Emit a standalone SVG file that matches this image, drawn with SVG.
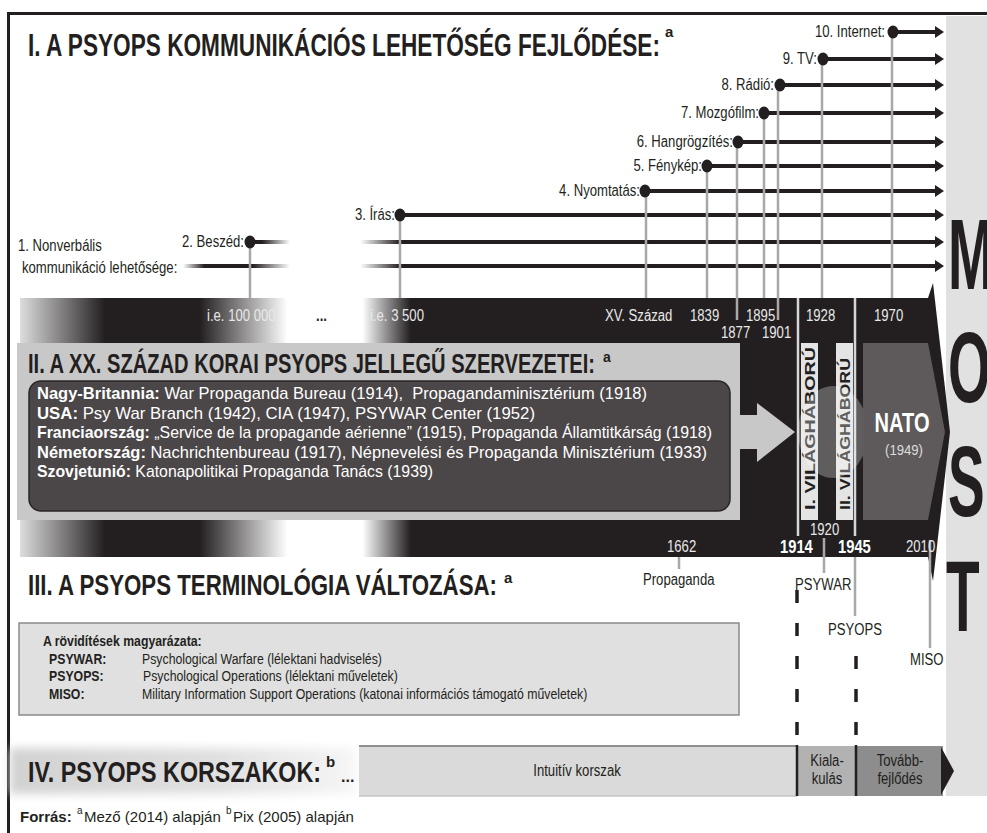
<svg xmlns="http://www.w3.org/2000/svg" width="987" height="833" viewBox="0 0 987 833">
<defs>
<style>
text{font-family:"Liberation Sans",Arial,sans-serif;}
.hd{font-weight:bold;fill:#231f20;}
.lb{font-size:16px;fill:#231f20;}
.wl{font-size:16px;fill:#e8e8e8;}
.bx{font-size:17px;fill:#ffffff;}
.b{font-weight:bold;}
.ln{stroke:#231f20;stroke-width:4;fill:none;}
.vg{stroke:#a8a8a8;stroke-width:2.5;fill:none;}
.sep{stroke:#d6d6d6;stroke-width:2.5;fill:none;}
.dot{fill:#231f20;}
.dash{stroke:#231f20;stroke-width:3.5;stroke-dasharray:13 20;fill:none;}
.big{font-size:100px;font-weight:bold;fill:#231f20;}
.lg{font-size:15px;fill:#231f20;}
.col{fill:#e4e4e4;}
.vt{font-size:15px;font-weight:bold;fill:#231f20;}
.yb{font-size:18px;font-weight:bold;fill:#ffffff;}
</style>
<marker id="ah" markerUnits="userSpaceOnUse" markerWidth="9" markerHeight="12" refX="0" refY="6" orient="auto" viewBox="0 0 9 12"><path d="M0,0 L9,6 L0,12 z" fill="#231f20"/></marker>
<linearGradient id="bandg" gradientUnits="userSpaceOnUse" x1="20" y1="0" x2="933" y2="0">
<stop offset="0" stop-color="#dddddd"/>
<stop offset="0.093" stop-color="#231f20"/>
<stop offset="0.197" stop-color="#231f20"/>
<stop offset="0.293" stop-color="#ffffff"/>
<stop offset="0.375" stop-color="#ffffff"/>
<stop offset="0.428" stop-color="#231f20"/>
<stop offset="1" stop-color="#231f20"/>
</linearGradient>
<linearGradient id="gnv" gradientUnits="userSpaceOnUse" x1="183" y1="0" x2="290" y2="0">
<stop offset="0" stop-color="#231f20" stop-opacity="0"/>
<stop offset="0.2" stop-color="#231f20" stop-opacity="1"/>
<stop offset="0.65" stop-color="#231f20" stop-opacity="1"/>
<stop offset="1" stop-color="#231f20" stop-opacity="0"/>
</linearGradient>
<linearGradient id="gbz" gradientUnits="userSpaceOnUse" x1="250" y1="0" x2="290" y2="0">
<stop offset="0.3" stop-color="#231f20" stop-opacity="1"/>
<stop offset="1" stop-color="#231f20" stop-opacity="0"/>
</linearGradient>
<linearGradient id="gin" gradientUnits="userSpaceOnUse" x1="360" y1="0" x2="400" y2="0">
<stop offset="0" stop-color="#231f20" stop-opacity="0"/>
<stop offset="1" stop-color="#231f20" stop-opacity="1"/>
</linearGradient>
<linearGradient id="glowg" x1="0" y1="0" x2="1" y2="0">
<stop offset="0" stop-color="#d2d2d2"/>
<stop offset="0.6" stop-color="#e0e0e0"/>
<stop offset="1" stop-color="#f6f6f6"/>
</linearGradient>
<filter id="blur" x="-10%" y="-30%" width="120%" height="160%"><feGaussianBlur stdDeviation="5"/></filter>
</defs>

<rect x="0" y="0" width="987" height="833" fill="#ffffff"/>

<g id="frame">
<rect x="946" y="16" width="41" height="780" fill="#e1e1e1"/>
<rect x="7" y="12" width="980" height="3" fill="#231f20"/>
<rect x="7" y="12" width="3" height="821" fill="#231f20"/>
</g>

<g id="most">
<text class="big" transform="translate(948,289) scale(0.55,1)">M</text>
<text class="big" transform="translate(948,402) scale(0.55,1)">O</text>
<text class="big" transform="translate(948,516) scale(0.55,1)">S</text>
<text class="big" transform="translate(946,631) scale(0.55,1)">T</text>
</g>

<g id="sec1-title">
<text class="hd" x="28" y="56" font-size="31" textLength="632" lengthAdjust="spacingAndGlyphs">I. A PSYOPS KOMMUNIKÁCIÓS LEHETŐSÉG FEJLŐDÉSE:</text>
<text class="hd" x="665" y="37" font-size="15">a</text>
</g>

<g id="band">
<rect x="20" y="298" width="913" height="259" fill="url(#bandg)"/>
<polygon points="928,298 933,283 950,432 933,581 928,557" fill="#231f20"/>
</g>

<g id="connectors">
<path class="ln" d="M893,32 H935" marker-end="url(#ah)"/>
<path class="ln" d="M823,59 H935" marker-end="url(#ah)"/>
<path class="ln" d="M780,85 H935" marker-end="url(#ah)"/>
<path class="ln" d="M764,113 H935" marker-end="url(#ah)"/>
<path class="ln" d="M738,142 H935" marker-end="url(#ah)"/>
<path class="ln" d="M707,166 H935" marker-end="url(#ah)"/>
<path class="ln" d="M645,191 H935" marker-end="url(#ah)"/>
<path class="ln" d="M400,215 H935" marker-end="url(#ah)"/>
<path d="M250,242 H290" stroke="url(#gbz)" stroke-width="4" fill="none"/>
<path d="M183,266 H290" stroke="url(#gnv)" stroke-width="4" fill="none"/>
<path d="M360,242 H400" stroke="url(#gin)" stroke-width="4" fill="none"/>
<path d="M360,266 H400" stroke="url(#gin)" stroke-width="4" fill="none"/>
<path class="ln" d="M399,242 H935" marker-end="url(#ah)"/>
<path class="ln" d="M399,266 H935" marker-end="url(#ah)"/>
<path class="vg" d="M892,32 V298 M822,59 V298 M778,85 V320 M764,113 V298 M737,142 V320 M707,166 V298 M646,191 V298 M400,215 V298 M250,242 V298"/>
<path class="vg" d="M679,557 V569 M824,538 V573 M855,557 V616 M930,540 V648"/>
<path class="sep" d="M798,298 V536 M855,298 V536"/>
<path class="dash" d="M797,590 V745"/>
<path class="dash" d="M856,656 V745"/>
</g>

<g id="m1"><text class="lb" transform="translate(18,251) scale(0.82,1)">1. Nonverbális</text><text class="lb" transform="translate(22,273) scale(0.82,1)">kommunikáció lehetősége:</text></g>
<g id="m2"><ellipse class="dot" cx="250" cy="242" rx="5.5" ry="6.5"/><text class="lb" text-anchor="end" transform="translate(244,247) scale(0.82,1)">2. Beszéd:</text></g>
<g id="m3"><ellipse class="dot" cx="400" cy="215" rx="5.5" ry="6.5"/><text class="lb" text-anchor="end" transform="translate(395,220) scale(0.82,1)">3. Írás:</text></g>
<g id="m4"><ellipse class="dot" cx="645" cy="191" rx="5.5" ry="6.5"/><text class="lb" text-anchor="end" transform="translate(640,196) scale(0.82,1)">4. Nyomtatás:</text></g>
<g id="m5"><ellipse class="dot" cx="707" cy="166" rx="5.5" ry="6.5"/><text class="lb" text-anchor="end" transform="translate(702,171) scale(0.82,1)">5. Fénykép:</text></g>
<g id="m6"><ellipse class="dot" cx="738" cy="142" rx="5.5" ry="6.5"/><text class="lb" text-anchor="end" transform="translate(733,147) scale(0.82,1)">6. Hangrögzítés:</text></g>
<g id="m7"><ellipse class="dot" cx="764" cy="113" rx="5.5" ry="6.5"/><text class="lb" text-anchor="end" transform="translate(759,118) scale(0.82,1)">7. Mozgófilm:</text></g>
<g id="m8"><ellipse class="dot" cx="780" cy="85" rx="5.5" ry="6.5"/><text class="lb" text-anchor="end" transform="translate(774,90) scale(0.82,1)">8. Rádió:</text></g>
<g id="m9"><ellipse class="dot" cx="823" cy="59" rx="5.5" ry="6.5"/><text class="lb" text-anchor="end" transform="translate(817,64) scale(0.82,1)">9. TV:</text></g>
<g id="m10"><ellipse class="dot" cx="893" cy="32" rx="5.5" ry="6.5"/><text class="lb" text-anchor="end" transform="translate(885,37) scale(0.82,1)">10. Internet:</text></g>

<g id="years-top">
<text class="wl" transform="translate(207,321) scale(0.82,1)">i.e. 100 000</text>
<text class="lb b" transform="translate(316,321) scale(0.82,1)">...</text>
<text class="wl" transform="translate(370,321) scale(0.82,1)">i.e. 3 500</text>
<text class="wl" transform="translate(605,321) scale(0.82,1)">XV. Század</text>
<text class="wl" transform="translate(690,321) scale(0.82,1)">1839</text>
<text class="wl" transform="translate(721,338) scale(0.82,1)">1877</text>
<text class="wl" transform="translate(746,321) scale(0.82,1)">1895</text>
<text class="wl" transform="translate(762,338) scale(0.82,1)">1901</text>
<text class="wl" transform="translate(806,321) scale(0.82,1)">1928</text>
<text class="wl" transform="translate(874,321) scale(0.82,1)">1970</text>
</g>

<g id="sec2">
<polygon points="17,343 740,343 740,415 757,415 757,403 795,432 757,462 757,449 740,449 740,520 17,520" fill="#c8c8c8"/>
<text class="hd" x="28" y="373" font-size="28" textLength="567" lengthAdjust="spacingAndGlyphs">II. A XX. SZÁZAD KORAI PSYOPS JELLEGŰ SZERVEZETEI:</text>
<text class="hd" x="603" y="362" font-size="14">a</text>
<rect x="29" y="381" width="701" height="130" rx="12" fill="#4b4647" stroke="#2a2627" stroke-width="1.5"/>
<text class="bx" x="37" y="399" textLength="610" lengthAdjust="spacingAndGlyphs"><tspan class="b">Nagy-Britannia:</tspan> War Propaganda Bureau (1914),&#160; Propagandaminisztérium (1918)</text>
<text class="bx" x="37" y="418.5" textLength="498" lengthAdjust="spacingAndGlyphs"><tspan class="b">USA:</tspan> Psy War Branch (1942), CIA (1947), PSYWAR Center (1952)</text>
<text class="bx" x="37" y="438" textLength="675" lengthAdjust="spacingAndGlyphs"><tspan class="b">Franciaország:</tspan> „Service de la propagande aérienne” (1915), Propaganda Államtitkárság (1918)</text>
<text class="bx" x="37" y="457.5" textLength="670" lengthAdjust="spacingAndGlyphs"><tspan class="b">Németország:</tspan> Nachrichtenbureau (1917), Népnevelési és Propaganda Minisztérium (1933)</text>
<text class="bx" x="37" y="477" textLength="396" lengthAdjust="spacingAndGlyphs"><tspan class="b">Szovjetunió:</tspan> Katonapolitikai Propaganda Tanács (1939)</text>
</g>

<g id="wars">
<rect class="col" x="801" y="343" width="17" height="177"/>
<rect class="col" x="836" y="343" width="17" height="177"/>
<text class="vt" transform="translate(815,510) rotate(-90)" textLength="163" lengthAdjust="spacingAndGlyphs">I. VILÁGHÁBORÚ</text>
<text class="vt" transform="translate(850,510) rotate(-90)" textLength="152" lengthAdjust="spacingAndGlyphs">II. VILÁGHÁBORÚ</text>
<ellipse cx="833" cy="432" rx="35" ry="46" fill="#ffffff" fill-opacity="0.28"/>
</g>

<g id="nato">
<polygon points="863,343 928,343 945,432 928,520 863,520" fill="#5e5a5b"/>
<text x="902" y="432" text-anchor="middle" font-size="28" font-weight="bold" fill="#ffffff" textLength="55" lengthAdjust="spacingAndGlyphs">NATO</text>
<text x="904" y="455" text-anchor="middle" font-size="15" fill="#dddddd" textLength="38" lengthAdjust="spacingAndGlyphs">(1949)</text>
</g>

<g id="years-bottom">
<text class="wl" transform="translate(667,552) scale(0.82,1)" font-size="15">1662</text>
<text class="yb" transform="translate(780,553) scale(0.82,1)">1914</text>
<text class="wl" transform="translate(810,535) scale(0.82,1)">1920</text>
<text class="yb" transform="translate(838,553) scale(0.82,1)">1945</text>
<text class="wl" transform="translate(906,552) scale(0.82,1)" font-size="15">2010</text>
</g>

<g id="sec3">
<text class="hd" x="28" y="595" font-size="30" textLength="469" lengthAdjust="spacingAndGlyphs">III. A PSYOPS TERMINOLÓGIA VÁLTOZÁSA:</text>
<text class="hd" x="504" y="583" font-size="15">a</text>
<text class="lb" transform="translate(643,585) scale(0.82,1)">Propaganda</text>
<text class="lb" transform="translate(795,590) scale(0.82,1)">PSYWAR</text>
<text class="lb" transform="translate(828,635) scale(0.82,1)">PSYOPS</text>
<text class="lb" transform="translate(910,665) scale(0.82,1)">MISO</text>
</g>

<g id="legend">
<rect x="19" y="623" width="720" height="92" fill="#e0e0e0" stroke="#8a8a8a" stroke-width="1.5"/>
<text class="lg b" transform="translate(43,646) scale(0.82,1)" font-size="14">A rövidítések magyarázata:</text>
<text class="lg b" transform="translate(49,663.5) scale(0.82,1)">PSYWAR:</text>
<text class="lg" transform="translate(142,663.5) scale(0.82,1)">Psychological Warfare (lélektani hadviselés)</text>
<text class="lg b" transform="translate(49,681) scale(0.82,1)">PSYOPS:</text>
<text class="lg" transform="translate(143,681) scale(0.82,1)">Psychological Operations (lélektani műveletek)</text>
<text class="lg b" transform="translate(49,698.5) scale(0.82,1)">MISO:</text>
<text class="lg" transform="translate(142,698.5) scale(0.82,1)">Military Information Support Operations (katonai információs támogató műveletek)</text>
</g>

<g id="sec4">
<rect x="10" y="748" width="345" height="46" fill="url(#glowg)" filter="url(#blur)"/>
<rect x="359" y="746" width="438" height="50" fill="#dadada"/>
<path d="M359,746 H797" stroke="#8f8f8f" stroke-width="2"/>
<path d="M359,796 H797" stroke="#c4c4c4" stroke-width="1.5"/>
<rect x="797" y="746" width="59" height="50" fill="#b2b2b2"/>
<rect x="856" y="746" width="87" height="50" fill="#8d8d8d"/>
<polygon points="941,747 954,771 941,795" fill="#231f20"/>
<path d="M797,745 V796 M856,745 V796" stroke="#231f20" stroke-width="2.5"/>
<text class="lb" text-anchor="middle" transform="translate(577,776) scale(0.82,1)" font-size="17">Intuitív korszak</text>
<text class="lb" text-anchor="middle" transform="translate(827,766) scale(0.82,1)" font-size="15">Kiala-</text>
<text class="lb" text-anchor="middle" transform="translate(827,784) scale(0.82,1)" font-size="15">kulás</text>
<text class="lb" text-anchor="middle" transform="translate(900,766) scale(0.82,1)" font-size="16">Tovább-</text>
<text class="lb" text-anchor="middle" transform="translate(900,784) scale(0.82,1)" font-size="16">fejlődés</text>
<text class="hd" x="28" y="782" font-size="30" textLength="293" lengthAdjust="spacingAndGlyphs">IV. PSYOPS KORSZAKOK:</text>
<text class="hd" x="326" y="767" font-size="15">b</text>
<text class="hd" x="341" y="782" font-size="16">...</text>
</g>

<g id="source">
<text class="b" x="20" y="822" font-size="15" fill="#231f20">Forrás:</text>
<text x="77" y="814" font-size="10" fill="#231f20">a</text>
<text x="84" y="822" font-size="15" fill="#231f20">Mező (2014) alapján</text>
<text x="226" y="814" font-size="10" fill="#231f20">b</text>
<text x="233" y="822" font-size="15" fill="#231f20">Pix (2005) alapján</text>
</g>
</svg>
